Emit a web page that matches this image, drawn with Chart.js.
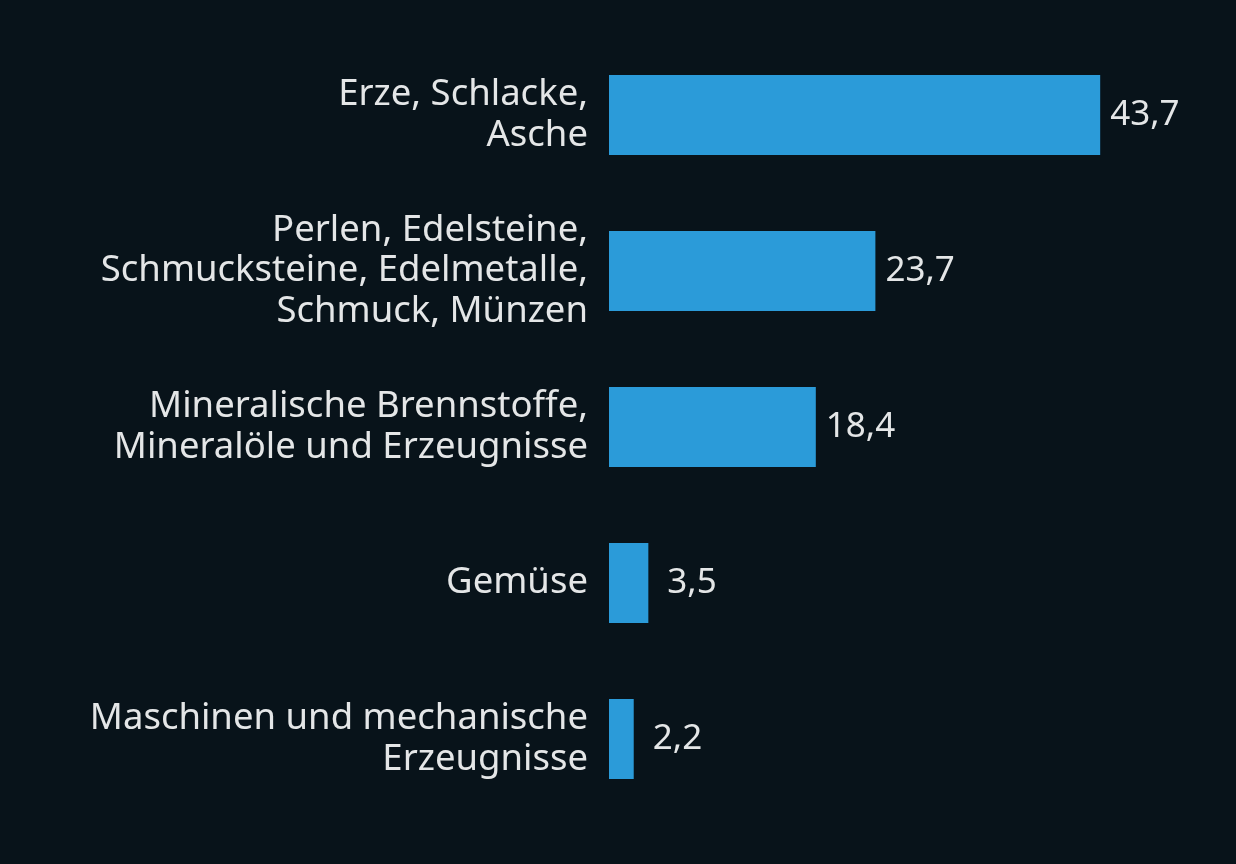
<!DOCTYPE html>
<html>
<head>
<meta charset="utf-8">
<script src="https://cdn.jsdelivr.net/npm/chart.js@4/dist/chart.umd.min.js"></script>
<style>
  html, body { margin: 0; padding: 0; background: #08131a; }
  #wrap { width: 1236px; height: 864px; }
</style>
</head>
<body>
<div id="wrap"><canvas id="chartOne"></canvas></div>
<script>
var categories = [
    ["Erze, Schlacke,", "Asche"],
    ["Perlen, Edelsteine,", "Schmucksteine, Edelmetalle,", "Schmuck, Münzen"],
    ["Mineralische Brennstoffe,", "Mineralöle und Erzeugnisse"],
    "Gemüse",
    ["Maschinen und mechanische", "Erzeugnisse"]
]
var values = [43.7, 23.7, 18.4, 3.5, 2.2]
var valueLabels = ["43,7", "23,7", "18,4", "3,5", "2,2"]

var textColor = "#e4e6e7"
var fontFamily = "'Noto Sans', 'Open Sans', sans-serif"

// draws the value text right after each bar
var valueLabelPlugin = {
    id: "valueLabels",
    afterDatasetsDraw: function (chart) {
        var ctx = chart.ctx
        var meta = chart.getDatasetMeta(0)
        ctx.save()
        ctx.fillStyle = textColor
        ctx.font = "35px " + fontFamily
        ctx.textAlign = "left"
        ctx.textBaseline = "middle"
        meta.data.forEach(function (bar, i) {
            var gap = values[i] < 5 ? 19 : 10
            ctx.fillText(valueLabels[i], bar.x + gap, bar.y)
        })
        ctx.restore()
    }
}

var getChartOne = document.getElementById("chartOne")

var chartOne = new Chart(getChartOne, {
    type: "bar",
    data: {
        labels: categories,
        datasets: [{
            data: values,
            backgroundColor: "#2b9bd9",
            barPercentage: 0.9,
            categoryPercentage: 0.57
        }]
    },
    options: {
        indexAxis: "y",
        responsive: true,
        maintainAspectRatio: false,
        animation: false,
        layout: { padding: { top: 37, bottom: 47, left: 0, right: 65 } },
        plugins: {
            legend: { display: false },
            tooltip: { enabled: false }
        },
        scales: {
            x: {
                display: false,
                min: 0,
                max: 50
            },
            y: {
                afterFit: function (scale) {
                    scale.width = 609
                    // let layout.padding alone decide the top/bottom space
                    scale.paddingTop = 0
                    scale.paddingBottom = 0
                },
                grid: { display: false },
                border: { display: false },
                ticks: {
                    color: textColor,
                    padding: 13,
                    font: { family: fontFamily, size: 36.5, lineHeight: 1.12 }
                }
            }
        }
    },
    plugins: [valueLabelPlugin]
})
</script>
</body>
</html>
